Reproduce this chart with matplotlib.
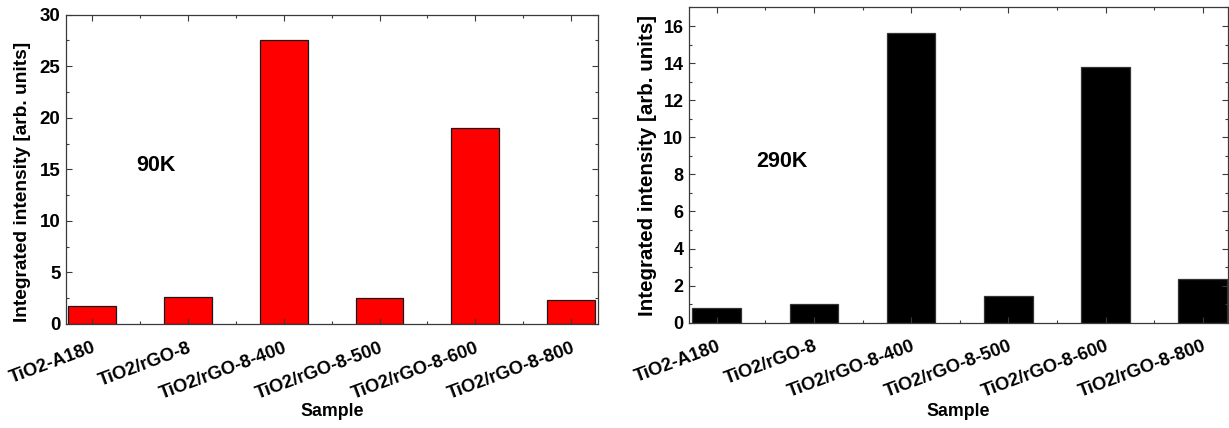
import matplotlib
matplotlib.use("Agg")
import matplotlib.pyplot as plt
from matplotlib.ticker import MultipleLocator

plt.rcParams["font.family"] = ["Liberation Sans", "DejaVu Sans"]
plt.rcParams["font.weight"] = "bold"

samples = ["TiO2-A180", "TiO2/rGO-8", "TiO2/rGO-8-400",
           "TiO2/rGO-8-500", "TiO2/rGO-8-600", "TiO2/rGO-8-800"]
intensity_90k = [1.7, 2.6, 27.5, 2.5, 19.0, 2.3]
intensity_290k = [0.77, 1.0, 15.65, 1.44, 13.8, 2.35]

SPINE = "#3a3a3a"


def style_axis(ax, ymax, ymajor, yminor, ytick_size):
    ax.set_ylim(0, ymax)
    ax.yaxis.set_major_locator(MultipleLocator(ymajor))
    ax.yaxis.set_minor_locator(MultipleLocator(yminor))
    ax.xaxis.set_minor_locator(MultipleLocator(0.5))
    ax.tick_params(which="both", direction="in", top=True, right=True,
                   color=SPINE, width=0.8)
    ax.tick_params(which="major", length=4.3)
    ax.tick_params(which="minor", length=2.3)
    ax.tick_params(axis="y", labelsize=ytick_size, pad=4)
    ax.tick_params(axis="x", pad=11)
    for s in ax.spines.values():
        s.set_color(SPINE)
        s.set_linewidth(0.9)


def bar_panel(ax, values, color, edge, xlim):
    x = range(len(samples))
    ax.bar(x, values, 0.5, color=color, edgecolor=edge, linewidth=0.9)
    ax.set_xlim(*xlim)
    ax.set_xticks(list(x))
    ax.set_xticklabels(samples, rotation=20.5, ha="right", va="top",
                       rotation_mode="anchor", fontweight="bold", fontsize=13.2)
    ax.set_xlabel("Sample", fontsize=12.8, fontweight="bold")


fig = plt.figure(figsize=(12.29, 4.28), dpi=100)

# left panel: 90 K, red bars
ax1 = fig.add_axes([0.0537, 0.243, 0.4329, 0.7227])
bar_panel(ax1, intensity_90k, "#ff0000", "#1a1a1a", (-0.271, 5.28))
style_axis(ax1, 30, 5, 2.5, 13.5)
ax1.set_ylabel("Integrated intensity [arb. units]", fontsize=13.8, fontweight="bold")
ax1.yaxis.set_label_coords(-0.066, 0.46)
ax1.xaxis.set_label_coords(0.5, -0.256)
ax1.text(0.67, 15.4, "90K", fontsize=15.5, fontweight="bold", ha="center", va="center")

# right panel: 290 K, black bars
ax2 = fig.add_axes([0.5606, 0.246, 0.4386, 0.7365])
bar_panel(ax2, intensity_290k, "black", "#333333", (-0.285, 5.26))
style_axis(ax2, 17, 2, 1, 13)
ax2.set_ylabel("Integrated intensity [arb. units]", fontsize=14.8, fontweight="bold")
ax2.yaxis.set_label_coords(-0.060, 0.5)
ax2.xaxis.set_label_coords(0.5, -0.255)
ax2.text(0.675, 8.7, "290K", fontsize=15.5, fontweight="bold", ha="center", va="center")

fig.savefig("out.png", dpi=100)
